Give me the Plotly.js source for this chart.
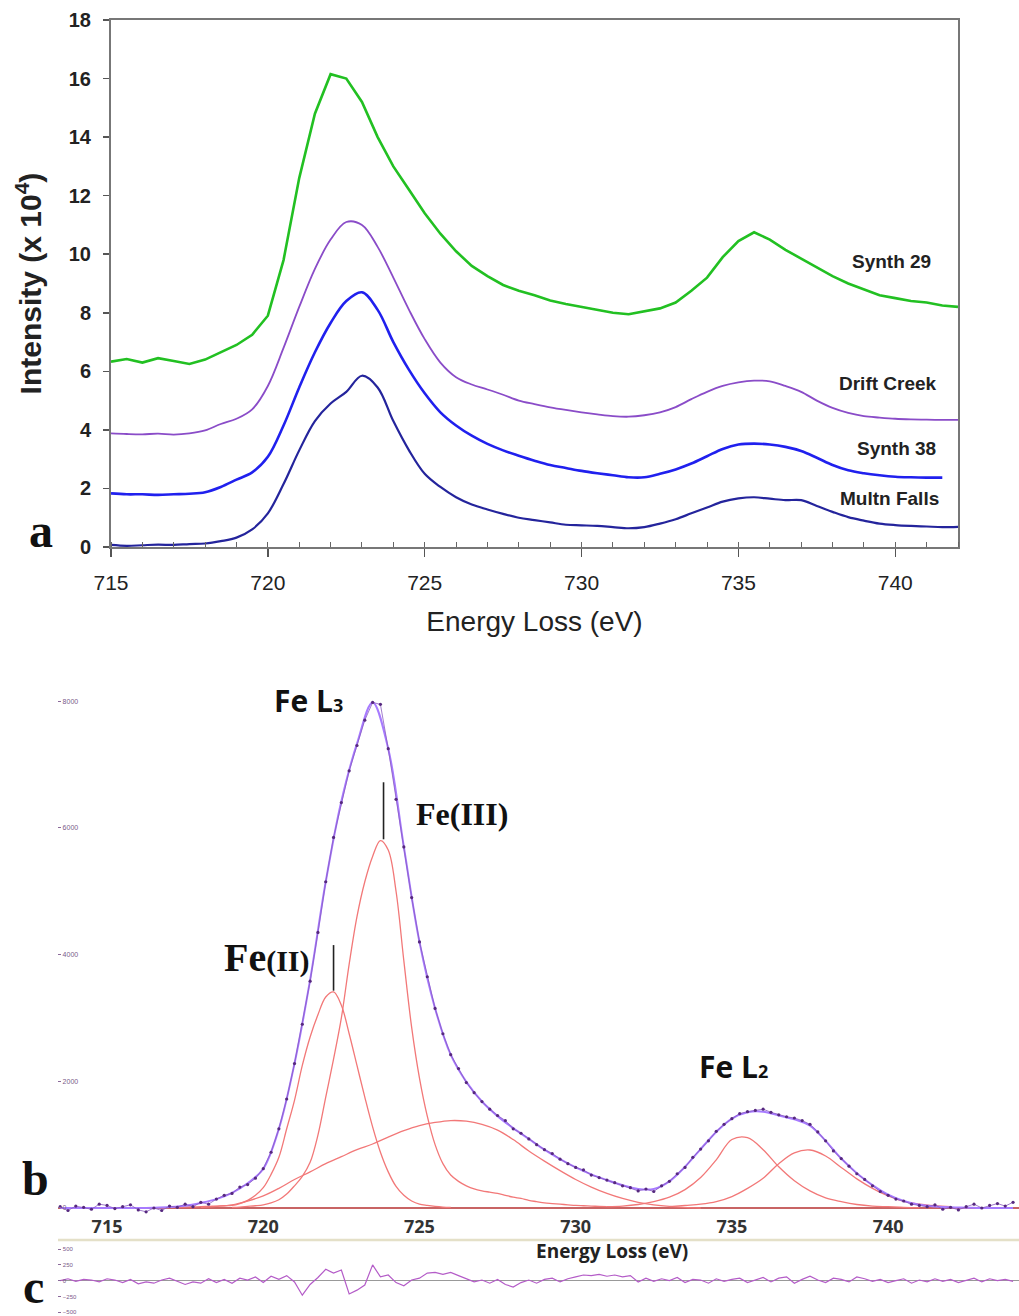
<!DOCTYPE html>
<html>
<head>
<meta charset="utf-8">
<script src="https://cdn.plot.ly/plotly-3.0.1.min.js"></script>
<style>html,body{margin:0;padding:0;background:#fff;}#chart{width:1019px;height:1316px;}</style>
</head>
<body>
<div id="chart"></div>
<script>
// ---------- Panel a data (energy grid 715 -> 742, step 0.5 eV), intensity x 10^4 ----------
const gridA = {start: 715, step: 0.5};
const synth29 = [6.33,6.42,6.30,6.45,6.35,6.25,6.40,6.65,6.90,7.25,7.9,9.8,12.6,14.8,16.15,16.0,15.2,14.0,13.0,12.2,11.4,10.7,10.1,9.6,9.25,8.95,8.75,8.6,8.42,8.3,8.2,8.1,8.0,7.95,8.05,8.15,8.35,8.75,9.2,9.9,10.45,10.75,10.5,10.15,9.85,9.55,9.25,9.0,8.8,8.6,8.5,8.4,8.35,8.25,8.2];
const driftCreek = [3.88,3.86,3.85,3.87,3.84,3.88,3.98,4.2,4.38,4.7,5.5,6.8,8.2,9.5,10.5,11.1,11.0,10.25,9.2,8.1,7.1,6.3,5.8,5.55,5.38,5.2,5.0,4.88,4.77,4.68,4.6,4.53,4.47,4.45,4.5,4.6,4.78,5.05,5.3,5.5,5.62,5.68,5.66,5.5,5.3,5.0,4.75,4.58,4.47,4.42,4.38,4.36,4.35,4.34,4.34];
const synth38 = [1.83,1.80,1.80,1.78,1.80,1.82,1.87,2.05,2.3,2.55,3.08,4.15,5.45,6.65,7.65,8.4,8.7,8.1,7.0,6.05,5.25,4.6,4.15,3.8,3.52,3.3,3.12,2.95,2.8,2.7,2.6,2.52,2.45,2.38,2.38,2.5,2.65,2.85,3.1,3.35,3.5,3.53,3.5,3.42,3.28,3.05,2.8,2.62,2.52,2.45,2.4,2.38,2.37,2.37,null];
const multnFalls = [0.07,0.04,0.06,0.08,0.07,0.10,0.12,0.2,0.32,0.6,1.15,2.15,3.3,4.3,4.9,5.3,5.85,5.45,4.3,3.3,2.5,2.05,1.7,1.45,1.28,1.13,1.0,0.92,0.84,0.76,0.74,0.72,0.68,0.64,0.68,0.8,0.95,1.15,1.35,1.55,1.66,1.7,1.65,1.6,1.6,1.4,1.2,1.02,0.9,0.8,0.75,0.72,0.7,0.68,0.69];
const seriesNamesA = ["Synth 29","Drift Creek","Synth 38","Multn Falls"];
const xTicksA = [715,720,725,730,735,740];
const yTicksA = [0,2,4,6,8,10,12,14,16,18];

// ---------- Panel b data (counts) ----------
const gridMeas = {start: 713.5, step: 0.25};
const measured = [20,-40,30,10,-20,60,40,-10,20,50,-30,-60,0,-40,30,10,60,20,90,60,140,200,230,330,370,470,620,880,1250,1720,2280,2900,3580,4350,5150,5850,6400,6900,7300,7700,7980,7950,7250,6450,5700,4900,4200,3650,3150,2750,2420,2200,1980,1820,1680,1560,1460,1380,1250,1180,1090,1000,920,860,770,700,640,600,520,480,440,400,350,320,270,300,260,350,420,540,640,800,930,1060,1210,1320,1410,1490,1520,1540,1560,1510,1470,1440,1420,1380,1320,1200,1060,900,780,660,540,450,350,260,200,140,110,60,40,20,50,-20,10,-30,20,60,0,40,70,30,90];
const gridFit = {start: 713.5, step: 0.5};
const fitSum = [0,0,0,0,0,0,5,15,35,80,140,240,390,620,1250,2280,3600,5150,6420,7330,7980,7250,5700,4200,3150,2420,1990,1680,1450,1260,1090,920,770,640,530,440,360,300,300,420,650,930,1200,1410,1510,1520,1460,1400,1300,1060,780,550,360,210,110,50,25,10,5,0,0,0];
const gridFe2 = {start: 717, step: 0.25};
const peakFe2 = [10,12,15,18,20,25,30,35,40,70,120,200,320,530,800,1250,1700,2250,2700,3050,3330,3410,3200,2750,2250,1750,1280,880,570,340,200,110,60,40,25,15,10];
const gridFe3 = {start: 719, step: 0.25};
const peakFe3 = [10,15,25,35,50,80,130,220,350,500,720,1150,1750,2350,3000,3850,4600,5150,5550,5800,5650,5000,3900,2850,2050,1450,1000,700,520,420,350,300,270,250,230,200,170,150,120,100,80,70,60,50,40,35,30,25,20];
const gridBroad = {start: 718, step: 0.5};
const peakBroad = [10,25,50,110,190,310,450,570,700,810,920,1010,1120,1220,1300,1350,1380,1370,1320,1230,1080,900,740,590,450,330,230,150,90,50,25,10,0];
const gridL2a = {start: 731, step: 0.5};
const peakL2a = [20,30,55,100,170,290,480,760,1080,1110,920,650,430,270,160,100,55,30,20,10,5];
const gridL2b = {start: 733, step: 0.5};
const peakL2b = [20,40,60,100,180,310,470,700,870,915,820,640,460,310,190,105,60,35,20];
const xTicksB = [715,720,725,730,735,740];
const yTicksB = [0,2000,4000,6000,8000];
// peak positions marked with vertical bars (energy, peak top, bar top)
const markFe2 = [722.25, 3430, 4150];
const markFe3 = [723.85, 5820, 6720];

// ---------- Panel c data (residual) ----------
const gridRes = {start: 713.5, step: 0.25};
const residual = [0,30,-10,20,10,-20,30,10,-30,20,-50,-20,-40,10,40,-10,-60,-20,-40,30,-30,20,-40,40,10,60,-30,70,20,80,-20,-230,-60,50,180,120,170,-210,-150,-70,250,60,90,-30,-80,10,40,120,130,100,130,80,30,-20,10,-40,20,-60,-100,-30,10,-40,20,40,-20,30,60,90,80,100,70,90,60,80,-20,40,-10,30,0,50,-30,20,10,-40,30,-10,20,40,-30,10,50,-20,40,60,-40,20,70,10,-30,40,20,-20,60,30,-10,20,-30,0,30,-40,10,-20,30,-10,20,-30,10,40,-20,30,0,20,-10];
const yTicksC = [-500,-250,0,250,500];

function grid(g, n){ return Array.from({length:n}, (_, i) => +(g.start + i*g.step).toFixed(3)); }

// pixel -> paper helpers for layout placement
const W = 1019, H = 1316;
const px = v => v / W;
const py = v => 1 - v / H;

const sans = "Liberation Sans, Arial, sans-serif";
const serif = "Liberation Serif, Times New Roman, serif";
const osans = "Open Sans, sans-serif";

const xa = grid(gridA, synth29.length);
const colorsA = ["#22c022", "#8a4cc8", "#2020ee", "#24249c"];
const widthsA = [2.6, 1.8, 2.6, 2.2];
const dataA = [synth29, driftCreek, synth38, multnFalls];

const traces = [];
dataA.forEach((ys, i) => {
  traces.push({x: xa, y: ys, xaxis: 'x', yaxis: 'y', type: 'scatter', mode: 'lines',
    name: seriesNamesA[i], line: {color: colorsA[i], width: widthsA[i], shape: i === 0 ? 'linear' : 'spline'},
    hoverinfo: 'skip'});
});

const red = "#f27878";
[[gridFe2, peakFe2], [gridFe3, peakFe3], [gridBroad, peakBroad], [gridL2a, peakL2a], [gridL2b, peakL2b]].forEach(([g, ys]) => {
  traces.push({x: grid(g, ys.length), y: ys, xaxis: 'x2', yaxis: 'y2', type: 'scatter', mode: 'lines',
    line: {color: red, width: 1.3, shape: 'spline'}, hoverinfo: 'skip'});
});
traces.push({x: grid(gridFit, fitSum.length), y: fitSum, xaxis: 'x2', yaxis: 'y2', type: 'scatter', mode: 'lines',
  line: {color: "#a77bff", width: 2, shape: 'spline'}, hoverinfo: 'skip'});
traces.push({x: grid(gridMeas, measured.length), y: measured, xaxis: 'x2', yaxis: 'y2', type: 'scatter', mode: 'lines+markers',
  line: {color: "#8a5cc0", width: 0.8}, marker: {color: "#56287f", size: 3.2}, hoverinfo: 'skip'});

traces.push({x: grid(gridRes, residual.length), y: residual, xaxis: 'x3', yaxis: 'y3', type: 'scatter', mode: 'lines',
  line: {color: "#b45cc8", width: 1.2}, hoverinfo: 'skip'});

const labelPos = [[891, 261], [888, 383], [896, 448], [889, 498]];
const annotations = seriesNamesA.map((t, i) => ({
  text: t, xref: 'paper', yref: 'paper', x: px(labelPos[i][0]), y: py(labelPos[i][1]),
  xanchor: 'center', yanchor: 'middle', showarrow: false,
  font: {family: sans, size: 19, color: '#222', weight: 'bold'}
}));

// panel letters
[["a", 41, 530], ["b", 35, 1178], ["c", 33, 1286]].forEach(([t, x, y]) => {
  annotations.push({text: '<b>' + t + '</b>', xref: 'paper', yref: 'paper', x: px(x), y: py(y),
    xanchor: 'center', yanchor: 'middle', showarrow: false, font: {family: serif, size: 48, color: '#111'}});
});

// panel b labels
annotations.push({text: '<b>Fe L<span style="font-size:18px">3</span></b>', xref: 'paper', yref: 'paper', x: px(308), y: py(700),
  xanchor: 'center', yanchor: 'middle', showarrow: false, font: {family: osans, size: 30, color: '#111'}});
annotations.push({text: '<b>Fe L<span style="font-size:18px">2</span></b>', xref: 'paper', yref: 'paper', x: px(733), y: py(1066),
  xanchor: 'center', yanchor: 'middle', showarrow: false, font: {family: osans, size: 30, color: '#111'}});
annotations.push({text: '<b>Fe(III)</b>', xref: 'paper', yref: 'paper', x: px(462), y: py(814),
  xanchor: 'center', yanchor: 'middle', showarrow: false, font: {family: serif, size: 32, color: '#111'}});
annotations.push({text: '<b>Fe<span style="font-size:30px">(II)</span></b>', xref: 'paper', yref: 'paper', x: px(267), y: py(958),
  xanchor: 'center', yanchor: 'middle', showarrow: false, font: {family: serif, size: 40, color: '#111'}});
// panel b x title
annotations.push({text: '<b>Energy Loss (eV)</b>', xref: 'paper', yref: 'paper', x: px(612), y: py(1251),
  xanchor: 'center', yanchor: 'middle', showarrow: false, font: {family: osans, size: 19, color: '#222'}});

const shapes = [
  {type: 'line', xref: 'paper', yref: 'paper', x0: px(58), x1: 1, y0: py(1240), y1: py(1240),
    line: {color: '#e4e0c8', width: 2.5}},
  {type: 'line', xref: 'x2', yref: 'y2', x0: markFe2[0], x1: markFe2[0], y0: markFe2[1], y1: markFe2[2],
    line: {color: '#222', width: 1.6}},
  {type: 'line', xref: 'x2', yref: 'y2', x0: markFe3[0], x1: markFe3[0], y0: markFe3[1], y1: markFe3[2],
    line: {color: '#222', width: 1.6}}
];

const layout = {
  width: W, height: H, margin: {l: 0, r: 0, t: 0, b: 0},
  paper_bgcolor: '#fff', plot_bgcolor: 'rgba(0,0,0,0)', showlegend: false,
  xaxis: {domain: [px(111), px(958)], range: [715, 742], anchor: 'y',
    tickvals: xTicksA, ticks: 'outside', ticklen: 8, tickwidth: 1.5, tickcolor: '#555',
    minor: {dtick: 1, ticks: 'inside', ticklen: 5, tickcolor: '#666', tickwidth: 1},
    showline: true, linecolor: '#777', linewidth: 2, mirror: true, showgrid: false, zeroline: false,
    ticklabelstandoff: 8,
    tickfont: {family: sans, size: 21, color: '#222'},
    title: {text: 'Energy Loss (eV)', font: {family: sans, size: 28, color: '#222'}, standoff: 18}},
  yaxis: {domain: [py(547), py(20)], range: [0, 18], anchor: 'x',
    tickvals: yTicksA, ticks: 'outside', ticklen: 6, tickwidth: 1.5, tickcolor: '#555',
    showline: true, linecolor: '#777', linewidth: 2, mirror: true, showgrid: false, zeroline: false,
    ticklabelstandoff: 8,
    tickfont: {family: sans, size: 20, color: '#222', weight: 'bold'},
    title: {text: 'Intensity (x 10<sup>4</sup>)', font: {family: sans, size: 30, color: '#222', weight: 'bold'}, standoff: 18}},
  xaxis2: {domain: [px(58), 1], range: [713.43, 744.19], anchor: 'y2',
    tickvals: xTicksB, ticks: '', showline: false, showgrid: false, zeroline: false,
    tickfont: {family: osans, size: 18, color: '#333', weight: 'bold'}},
  yaxis2: {domain: [py(1214), py(660)], range: [-95, 8650], anchor: 'x2',
    tickvals: yTicksB, ticks: 'inside', ticklen: 3, tickcolor: '#8a6a9a', ticklabelposition: 'inside',
    showline: false, showgrid: false, zeroline: true, zerolinecolor: '#c86464', zerolinewidth: 1.6,
    tickfont: {family: sans, size: 7, color: '#7a5a8a'}},
  xaxis3: {domain: [px(58), 1], range: [713.43, 744.19], anchor: 'y3', visible: false},
  yaxis3: {domain: [0, py(1242)], range: [-560, 613], anchor: 'x3',
    tickvals: yTicksC, ticks: 'inside', ticklen: 3, tickcolor: '#8a6a9a', ticklabelposition: 'inside',
    showline: false, showgrid: false, zeroline: true, zerolinecolor: '#999', zerolinewidth: 1,
    tickfont: {family: sans, size: 6, color: '#7a5a8a'}},
  shapes: shapes,
  annotations: annotations
};

Plotly.newPlot('chart', traces, layout, {staticPlot: true, displayModeBar: false});
</script>
</body>
</html>
